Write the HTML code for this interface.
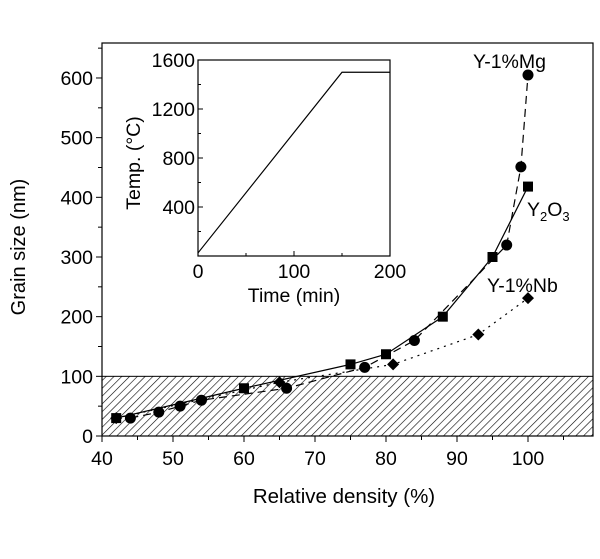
<!DOCTYPE html>
<html><head><meta charset="utf-8"><style>
body{margin:0;background:#fff}
svg text{font-family:"Liberation Sans",Arial,sans-serif;fill:#000}
</style></head><body>
<svg id="c" width="600" height="554" xmlns="http://www.w3.org/2000/svg">
<defs>
<pattern id="hatch" patternUnits="userSpaceOnUse" width="5.5" height="5.5" patternTransform="rotate(45)">
<line x1="0" y1="0" x2="0" y2="5.5" stroke="#000" stroke-width="1.2"/>
</pattern>
</defs>
</svg>
<script>
const xTicks=[40,50,60,70,80,90,100];
const yTicks=[0,100,200,300,400,500,600];
const y2o3X=[42,60,75,80,88,95,100];
const y2o3Y=[30,80,120,137,200,300,418];
const mgX=[44,48,51,54,66,77,84,97,99,100];
const mgY=[30,40,50,60,80,115,160,320,451,605];
const nbX=[42,65,81,93,100];
const nbY=[30,90,120,170,231];
const insetXTicks=[0,100,200];
const insetYTicks=[400,800,1200,1600];
const insetTime=[0,150,200];
const insetTemp=[25,1500,1500];

const NS="http://www.w3.org/2000/svg";
const svg=document.getElementById('c');
function mk(t,a,p){const e=document.createElementNS(NS,t);for(const k in a)e.setAttribute(k,a[k]);(p||svg).appendChild(e);return e;}
const L=102,R=593,T=43,B=436;
const FS=19.5;
const sx=v=>L+(v-40)*7.1;
const sy=v=>B-v*0.5967;

let e=mk('rect',{x:L,y:sy(100),width:R-L,height:B-sy(100),fill:'url(#hatch)',stroke:'#000','stroke-width':1});


e=mk('rect',{x:L,y:T,width:R-L,height:B-T,fill:'none',stroke:'#000','stroke-width':1.2});



for(let v=40;v<=105;v+=5){
  const x=sx(v);
  mk('line',{x1:x,y1:B,x2:x,y2:B+(v%10==0?6:4),stroke:'#000'});
}
xTicks.forEach(v=>{
  const t=mk('text',{x:sx(v),y:B+29,'text-anchor':'middle','font-size':FS});
  t.textContent=v;
  
  
});
for(let v=0;v<=650;v+=50){
  const y=sy(v);
  mk('line',{x1:L,y1:y,x2:L-(v%100==0?6:4),y2:y,stroke:'#000'});
}
yTicks.forEach(v=>{
  const t=mk('text',{x:L-9,y:sy(v)+7,'text-anchor':'end','font-size':FS});
  t.textContent=v;
  
  
});
e=mk('text',{x:344,y:503,'text-anchor':'middle','font-size':20.5});
e.textContent='Relative density (%)';


e=mk('text',{x:0,y:0,'text-anchor':'middle','font-size':20,transform:'translate(25,247) rotate(-90)'});
e.textContent='Grain size (nm)';



function series(xs,ys,dash,name){
  const p=xs.map((v,i)=>sx(v)+','+sy(ys[i])).join(' ');
  const l=mk('polyline',{points:p,fill:'none',stroke:'#000','stroke-width':1.2,'stroke-dasharray':dash});
  
  
}
series(y2o3X,y2o3Y,'none','y2o3');
series(mgX,mgY,'8,5','mg');
series(nbX,nbY,'2,5','nb');
y2o3X.forEach((v,i)=>{
  const m=mk('rect',{x:sx(v)-5,y:sy(y2o3Y[i])-5,width:10,height:10,fill:'#000'});
  
  
});
mgX.forEach((v,i)=>{
  const m=mk('circle',{cx:sx(v),cy:sy(mgY[i]),r:5.5,fill:'#000'});
  
  
});
nbX.forEach((v,i)=>{
  const x=sx(v),y=sy(nbY[i]);
  const m=mk('polygon',{points:`${x},${y-6} ${x+6},${y} ${x},${y+6} ${x-6},${y}`,fill:'#000'});
  
  
});
e=mk('text',{x:473,y:68,'font-size':FS});e.textContent='Y-1%Mg';


e=mk('text',{x:527,y:216,'font-size':FS});
e.innerHTML='Y<tspan dy="5" font-size="13">2</tspan><tspan dy="-5">O</tspan><tspan dy="5" font-size="13">3</tspan>';


e=mk('text',{x:487,y:292,'font-size':FS});e.textContent='Y-1%Nb';



// inset
const iL=198,iR=390,iT=60,iB=256;
const ix=v=>iL+v*(iR-iL)/200;
const iy=v=>iB-v*(iB-iT)/1600;
const g=mk('g',{});


mk('rect',{x:iL,y:iT,width:iR-iL,height:iB-iT,fill:'#fff',stroke:'#000','stroke-width':1.2},g);
for(let v=0;v<=200;v+=50)mk('line',{x1:ix(v),y1:iB,x2:ix(v),y2:iB-(v%100==0?5:3),stroke:'#000'},g);
for(let v=200;v<=1600;v+=200)mk('line',{x1:iL,y1:iy(v),x2:iL+(v%400==0?5:3),y2:iy(v),stroke:'#000'},g);
insetXTicks.forEach(v=>{const t=mk('text',{x:ix(v),y:iB+22,'text-anchor':'middle','font-size':FS},g);t.textContent=v;
 
 });
insetYTicks.forEach(v=>{const t=mk('text',{x:iL-3,y:iy(v)+7,'text-anchor':'end','font-size':FS},g);t.textContent=v;
 
 });
e=mk('text',{x:294,y:302,'text-anchor':'middle','font-size':FS},g);e.textContent='Time (min)';


e=mk('text',{x:0,y:0,'text-anchor':'middle','font-size':FS,transform:'translate(140,163) rotate(-90)'},g);e.textContent='Temp. (°C)';


e=mk('polyline',{points:insetTime.map((v,i)=>ix(v)+','+iy(insetTemp[i])).join(' '),fill:'none',stroke:'#000','stroke-width':1.2},g);


</script>
</body></html>
